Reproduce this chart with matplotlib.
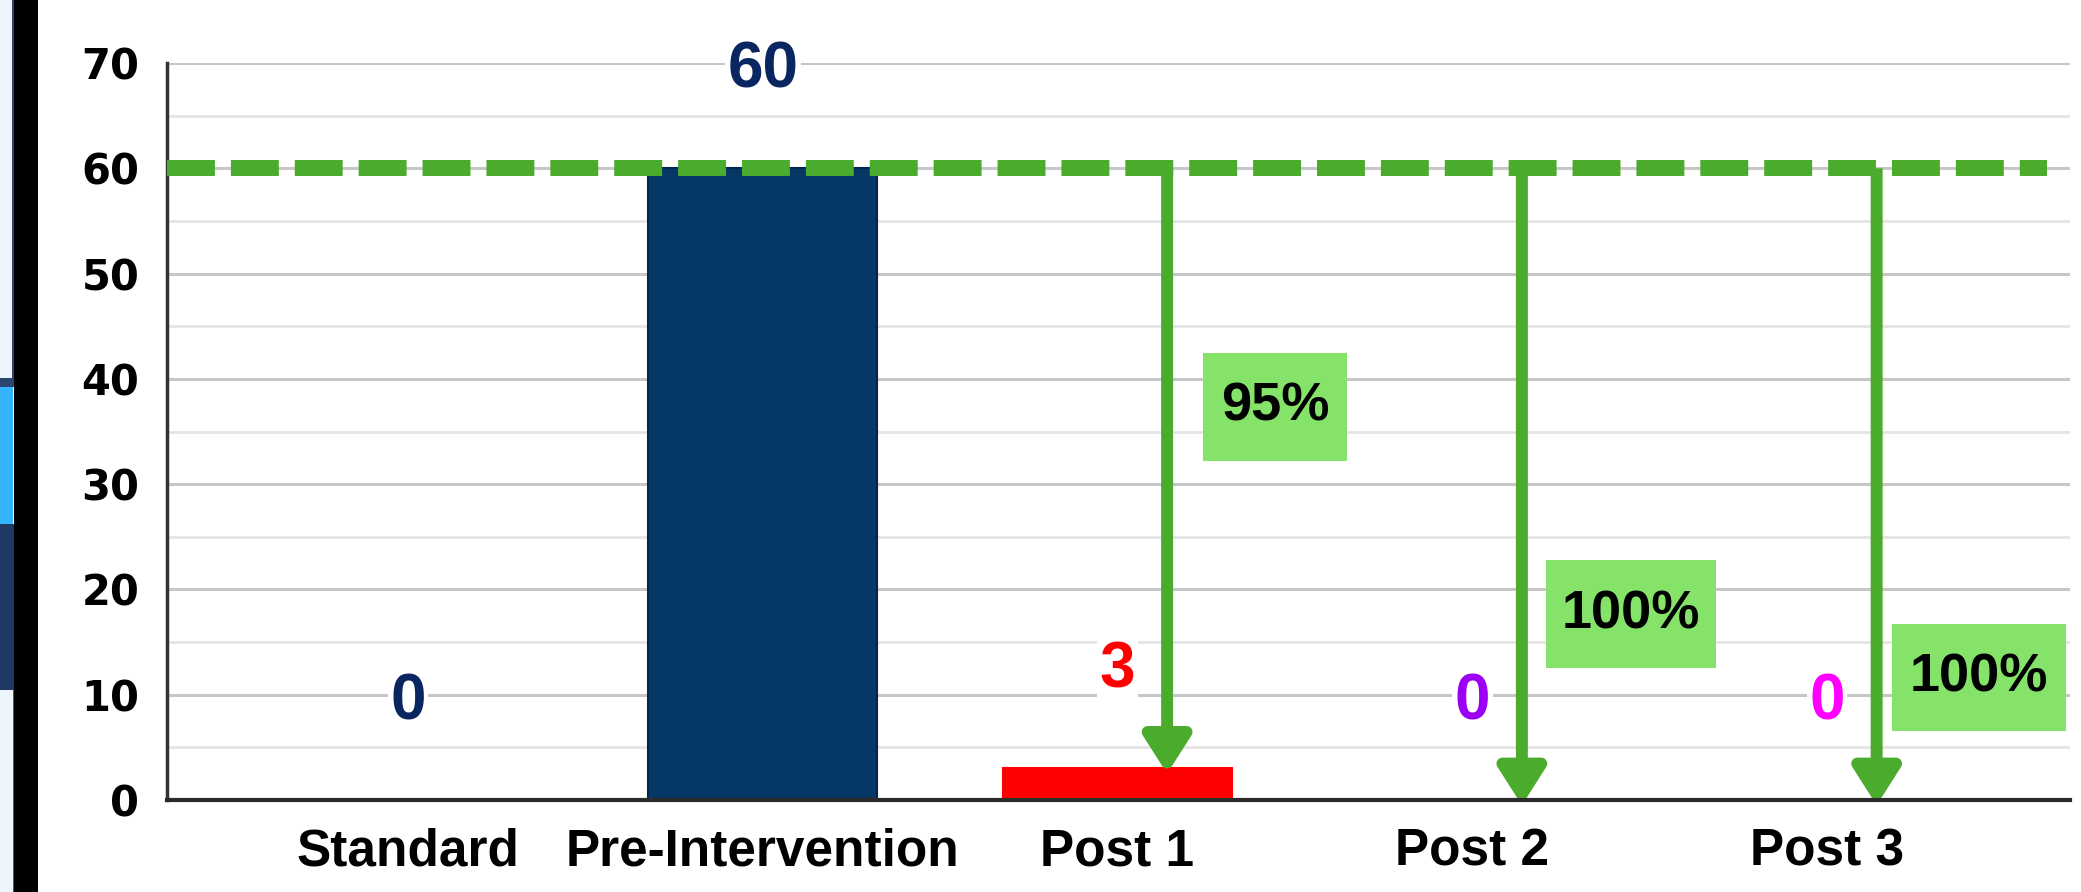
import matplotlib
matplotlib.use("Agg")
import matplotlib.pyplot as plt
from matplotlib.patches import Rectangle, FancyBboxPatch
from matplotlib.ticker import MultipleLocator

# ---- data ----
categories = ["Standard", "Pre-Intervention", "Post 1", "Post 2", "Post 3"]
values = [0, 60, 3, 0, 0]
bar_colors = ["#063865", "#063865", "#ff0000", "#ffffff", "#ffffff"]
label_colors = ["#0a2660", "#0a2660", "#ff0000", "#9b00f5", "#ff00ff"]
target = 60
reductions = ["95%", "100%", "100%"]
reduction_cats = [2, 3, 4]
y_ticks = [0, 10, 20, 30, 40, 50, 60, 70]

GREEN = "#4bab2d"
BOXGREEN = "#85e36a"

W, H = 2081, 892
fig = plt.figure(figsize=(W / 100, H / 100), dpi=100)
fig.patch.set_facecolor("white")

# left screenshot strip
def fig_rect(x0, y0, x1, y1, color, **kw):
    fig.patches.append(Rectangle((x0 / W, 1 - y1 / H), (x1 - x0) / W, (y1 - y0) / H,
                                 transform=fig.transFigure, facecolor=color,
                                 edgecolor="none", zorder=0, **kw))

fig_rect(0, 0, 14, 378, "#eef5fd")
fig_rect(12, 0, 15, 378, "#2b4470")
fig_rect(0, 378, 15, 387, "#2b4470")
fig_rect(0, 387, 14, 524, "#33b4fc")
fig_rect(13, 387, 14, 524, "#ffffff")
fig_rect(0, 524, 15, 690, "#1f3864")
fig_rect(0, 690, 14, 892, "#eef5fd")
fig_rect(13, 690, 15, 892, "#555555")
fig_rect(14, 0, 38, 892, "#000000")

left, right = 167 / W, 2070 / W
bottom, top = 1 - 800 / H, 1 - 63 / H
ax = fig.add_axes([left, bottom, right - left, top - bottom])
ax.set_facecolor("white")

x = list(range(len(categories)))
ax.set_xlim(-0.679, 4.685)
ax.set_ylim(0, 70)

# grid
ax.yaxis.set_major_locator(MultipleLocator(10))
ax.yaxis.set_minor_locator(MultipleLocator(5))
ax.grid(axis="y", which="major", color="#c9c6c6", lw=2.2, zorder=0)
ax.grid(axis="y", which="minor", color="#e6e3e3", lw=2.0, zorder=0)
ax.set_axisbelow(True)

# bars
ax.bar(x, values, width=0.645, color=bar_colors,
       edgecolor=["#03244f", "#03244f", "#ff0000", "none", "none"], lw=1.5, zorder=2)

# value labels
for xi, v, c in zip(x, values, label_colors):
    ax.text(xi, v + 9.3, str(v), ha="center", va="center", color=c,
            fontsize=46, fontweight="bold",
            family=["Liberation Sans Narrow", "Liberation Sans", "DejaVu Sans"],
            zorder=3, bbox=dict(facecolor="white", edgecolor="none", pad=2))

# target dashed line
ax.plot([-0.679, 4.62], [target, target], color=GREEN, lw=11.5,
        dashes=(3, 1), solid_capstyle="butt", dash_capstyle="butt", zorder=4)

# arrows and reduction boxes
arrow_dx = 0.14
box_specs = [  # (x0, x1, y0, y1) in data units
    (2.241, 2.647, 32.2, 42.5),
    (3.208, 3.687, 12.5, 22.8),
    (4.183, 4.674, 6.55, 16.7),
]
for ci, txt, (bx0, bx1, by0, by1) in zip(reduction_cats, reductions, box_specs):
    xa = ci + arrow_dx
    ax.annotate("", xy=(xa, values[ci] - 0.5), xytext=(xa, target),
                arrowprops=dict(arrowstyle="-|>,head_length=0.44,head_width=0.28",
                                mutation_scale=50, lw=8.6, color=GREEN,
                                shrinkA=0, shrinkB=0, joinstyle="round",
                                capstyle="butt"),
                annotation_clip=False, zorder=5)
    ax.add_patch(Rectangle((bx0, by0), bx1 - bx0, by1 - by0, facecolor=BOXGREEN,
                           edgecolor="none", zorder=6))
    ax.text((bx0 + bx1) / 2, (by0 + by1) / 2, txt, ha="center", va="center",
            fontsize=39, fontweight="bold", family=["Liberation Sans", "DejaVu Sans"],
            color="black", zorder=7)

# axes styling
ax.set_xticks(x)
ax.set_xticklabels(categories, fontsize=37, fontweight="bold",
                   family=["Liberation Sans", "DejaVu Sans"])
ax.set_yticks(y_ticks)
ax.set_yticklabels([str(t) for t in y_ticks], fontsize=30, fontweight="bold",
                   family=["DejaVu Sans"])
ax.tick_params(axis="both", which="both", length=0)
ax.tick_params(axis="x", pad=20)
ax.tick_params(axis="y", pad=20)
for s in ["top", "right"]:
    ax.spines[s].set_visible(False)
ax.spines["left"].set_color("#333333")
ax.spines["left"].set_linewidth(2.5)
ax.spines["bottom"].set_color("#2a2a2a")
ax.spines["bottom"].set_linewidth(3)
ax.spines["bottom"].set_zorder(8)

fig.savefig("out.png", dpi=100)
